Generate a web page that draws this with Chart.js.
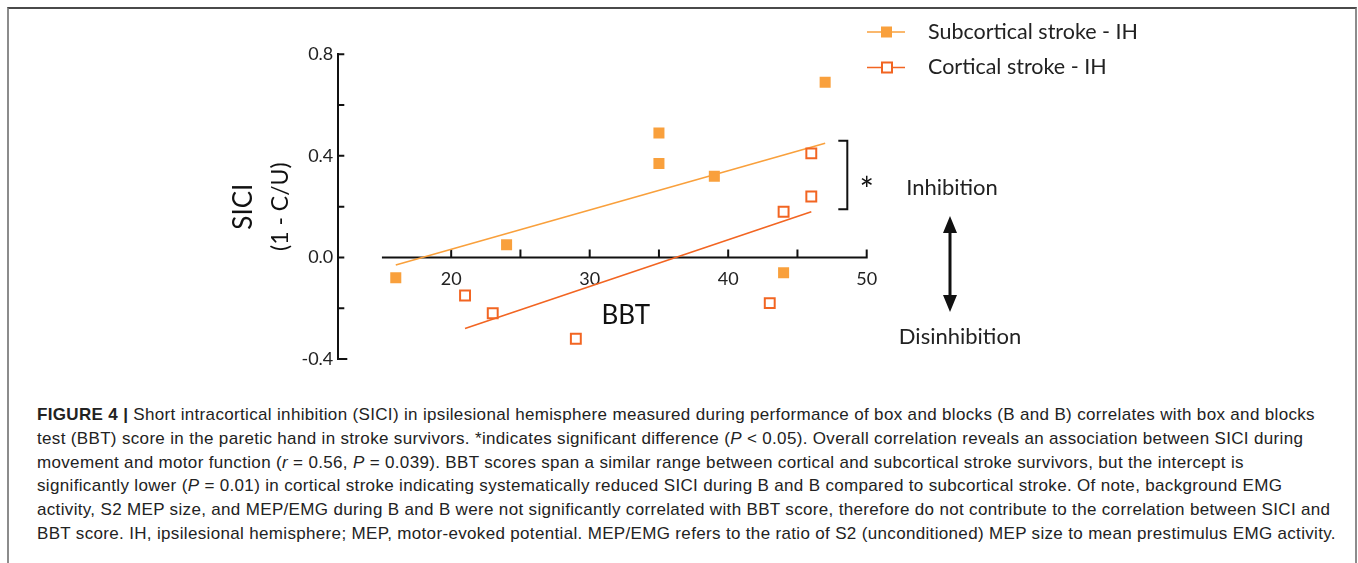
<!DOCTYPE html>
<html>
<head>
<meta charset="utf-8">
<script src="https://cdn.jsdelivr.net/npm/chart.js@4.4.1/dist/chart.umd.min.js"></script>
<style>
  body { margin: 0; background: #fff; width: 1358px; height: 563px; overflow: hidden; position: relative; }
  #frame { position: absolute; left: 7px; top: 7px; width: 1346px; height: 620px; border-top: 2px solid #4a4a4a; border-left: 2px solid #8c8c8c; border-right: 2px solid #8c8c8c; }
  #chartBox { position: absolute; left: 0; top: 0; width: 1358px; height: 390px; }
  #caption { position: absolute; left: 37px; top: 403px; font-family: "Liberation Sans Narrow", "Liberation Sans", Arial, sans-serif; font-size: 17px; line-height: 23.8px; color: #222; white-space: nowrap; }
  #caption b { font-family: "Liberation Sans", Arial, sans-serif; }
</style>
</head>
<body>
<div id="frame"></div>
<div id="chartBox"><canvas id="chart" width="1358" height="390"></canvas></div>
<div id="caption">
  <div><span id="line1"><b>FIGURE 4 |</b> Short intracortical inhibition (SICI) in ipsilesional hemisphere measured during performance of box and blocks (B and B) correlates with box and blocks</span></div>
  <div>test (BBT) score in the paretic hand in stroke survivors. *indicates significant difference (<i>P</i> &lt; 0.05). Overall correlation reveals an association between SICI during</div>
  <div>movement and motor function (<i>r</i> = 0.56, <i>P</i> = 0.039). BBT scores span a similar range between cortical and subcortical stroke survivors, but the intercept is</div>
  <div>significantly lower (<i>P</i> = 0.01) in cortical stroke indicating systematically reduced SICI during B and B compared to subcortical stroke. Of note, background EMG</div>
  <div>activity, S2 MEP size, and MEP/EMG during B and B were not significantly correlated with BBT score, therefore do not contribute to the correlation between SICI and</div>
  <div>BBT score. IH, ipsilesional hemisphere; MEP, motor-evoked potential. MEP/EMG refers to the ratio of S2 (unconditioned) MEP size to mean prestimulus EMG activity.</div>
</div>
<script>
// data
const seriesNames = ["Subcortical stroke - IH", "Cortical stroke - IH"];
const subX = [16, 24, 35, 35, 39, 44, 47];
const subY = [-0.08, 0.05, 0.49, 0.37, 0.32, -0.06, 0.69];
const corX = [21, 23, 29, 43, 44, 46, 46];
const corY = [-0.15, -0.22, -0.32, -0.18, 0.18, 0.24, 0.41];
// regression lines (end points as drawn)
const subFitX = [16, 47];
const subFitY = [-0.03, 0.45];
const corFitX = [21, 46];
const corFitY = [-0.28, 0.18];
// axes
const xTicks = [20, 30, 40, 50];
const xMinorTicks = [25, 35, 45];
const xAxisRange = [15, 50];
const yTickLabels = ["-0.4", "0.0", "0.4", "0.8"];
const bracketX = 48.6;
const bracketY = [0.19, 0.46];

const subColor = "#F9A03C";
const corColor = "#F26522";
const font = "Lato, 'Open Sans', sans-serif";

function pts(xs, ys) {
    return xs.map((x, i) => ({ x: x, y: ys[i] }));
}

// caption: stretch letter spacing so the first line matches the original width
let line1 = document.getElementById("line1");
let w = line1.getBoundingClientRect().width;
let ls = (1278 - w) / line1.textContent.length;
document.getElementById("caption").style.letterSpacing = ls.toFixed(3) + "px";

// axes, bracket, labels, legend
const decor = {
    id: "decor",
    beforeDatasetsDraw(chart) {
        let ctx = chart.ctx, xs = chart.scales.x, ys = chart.scales.y;
        let y0 = ys.getPixelForValue(0);
        ctx.save();
        ctx.strokeStyle = "#111";
        ctx.lineWidth = 2;
        ctx.beginPath();
        ctx.moveTo(xs.getPixelForValue(xAxisRange[0]), y0);
        ctx.lineTo(xs.getPixelForValue(xAxisRange[1]) + 1, y0);
        xTicks.concat(xMinorTicks).forEach(v => {
            let px = xs.getPixelForValue(v);
            ctx.moveTo(px, y0);
            ctx.lineTo(px, y0 - 8);
        });
        ys.ticks.forEach(t => {
            let py = ys.getPixelForValue(t.value);
            let len = (t.value === 0 || t.value === -0.4) ? 9 : 6;
            ctx.moveTo(chart.chartArea.left, py);
            ctx.lineTo(chart.chartArea.left + len, py);
        });
        ctx.stroke();
        ctx.restore();
    },
    afterDraw(chart) {
        let ctx = chart.ctx, xs = chart.scales.x, ys = chart.scales.y;
        let left = chart.chartArea.left;
        ctx.save();
        ctx.fillStyle = "#111";
        ctx.strokeStyle = "#111";
        ctx.textAlign = "center";
        ctx.textBaseline = "middle";

        // y axis titles
        let yc = ys.getPixelForValue(0.2);
        ctx.save();
        ctx.translate(left - 95, yc);
        ctx.rotate(-Math.PI / 2);
        ctx.font = "26px " + font;
        ctx.fillText("SICI", 0, 0);
        ctx.restore();
        ctx.save();
        ctx.translate(left - 58, yc);
        ctx.rotate(-Math.PI / 2);
        ctx.font = "23px " + font;
        ctx.fillText("(1 - C/U)", 0, 0);
        ctx.restore();

        // x axis title
        ctx.font = "26px " + font;
        ctx.fillText("BBT", xs.getPixelForValue(32.6), ys.getPixelForValue(-0.23));

        // bracket and star
        let bx = xs.getPixelForValue(bracketX);
        let bt = ys.getPixelForValue(bracketY[1]), bb = ys.getPixelForValue(bracketY[0]);
        ctx.lineWidth = 2;
        ctx.beginPath();
        ctx.moveTo(bx - 9, bt);
        ctx.lineTo(bx, bt);
        ctx.lineTo(bx, bb);
        ctx.lineTo(bx - 9, bb);
        ctx.stroke();
        ctx.font = "34px " + font;
        ctx.fillText("*", xs.getPixelForValue(50), ys.getPixelForValue(0.26));

        // inhibition / disinhibition arrow
        ctx.font = "22px " + font;
        ctx.fillStyle = "#222";
        ctx.fillText("Inhibition", 952, 188);
        ctx.fillText("Disinhibition", 960, 337);
        ctx.fillStyle = "#111";
        ctx.lineWidth = 3;
        ctx.beginPath();
        ctx.moveTo(950, 225);
        ctx.lineTo(950, 303);
        ctx.stroke();
        ctx.beginPath();
        ctx.moveTo(950, 216);
        ctx.lineTo(957, 233);
        ctx.lineTo(943, 233);
        ctx.closePath();
        ctx.moveTo(950, 312);
        ctx.lineTo(957, 295);
        ctx.lineTo(943, 295);
        ctx.closePath();
        ctx.fill();

        // legend
        ctx.textAlign = "left";
        ctx.font = "21.5px " + font;
        chart.data.datasets.slice(0, 2).forEach((ds, i) => {
            let ly = 32 + i * 35.5;
            ctx.strokeStyle = ds.borderColor;
            ctx.lineWidth = 1.5;
            ctx.beginPath();
            ctx.moveTo(867, ly);
            ctx.lineTo(905, ly);
            ctx.stroke();
            if (i === 0) {
                ctx.fillStyle = ds.backgroundColor;
                ctx.fillRect(881, ly - 5.5, 11, 11);
            } else {
                ctx.fillStyle = "#fff";
                ctx.fillRect(882, ly - 5, 10, 10);
                ctx.lineWidth = 2;
                ctx.strokeRect(882, ly - 5, 10, 10);
            }
            ctx.fillStyle = "#222";
            ctx.fillText(ds.label, 928, ly);
        });
        ctx.restore();
    }
};

new Chart(document.getElementById("chart"), {
    type: "scatter",
    data: {
        datasets: [{
            label: seriesNames[0],
            data: pts(subX, subY),
            pointStyle: "rect",
            pointRadius: 7.8,
            pointBorderWidth: 0,
            backgroundColor: subColor,
            borderColor: subColor
        }, {
            label: seriesNames[1],
            data: pts(corX, corY),
            pointStyle: "rect",
            pointRadius: 7,
            pointBorderWidth: 2,
            backgroundColor: "rgba(255,255,255,0)",
            borderColor: corColor
        }, {
            label: "fit sub",
            data: pts(subFitX, subFitY),
            showLine: true,
            pointRadius: 0,
            borderWidth: 1.6,
            borderColor: subColor
        }, {
            label: "fit cor",
            data: pts(corFitX, corFitY),
            showLine: true,
            pointRadius: 0,
            borderWidth: 1.6,
            borderColor: corColor
        }]
    },
    options: {
        responsive: false,
        animation: false,
        layout: { padding: { left: 278.3, right: 491.3, top: 54.3, bottom: 31 } },
        plugins: { legend: { display: false }, tooltip: { enabled: false } },
        scales: {
            x: {
                type: "linear",
                position: { y: 0 },
                min: 11.85,
                max: 50,
                grid: { display: false, drawTicks: false },
                border: { display: false },
                afterBuildTicks: s => { s.ticks = xTicks.map(v => ({ value: v })); },
                ticks: { padding: 11, color: "#222", font: { family: font, size: 18 } }
            },
            y: {
                min: -0.4,
                max: 0.8,
                grid: { display: false, drawTicks: false },
                border: { display: true, color: "#111", width: 2 },
                afterFit: s => { s.width = 60; },
                ticks: {
                    stepSize: 0.2,
                    padding: 5,
                    color: "#222",
                    font: { family: font, size: 18 },
                    callback: v => yTickLabels.find(t => Math.abs(parseFloat(t) - v) < 1e-6) || ""
                }
            }
        }
    },
    plugins: [decor]
});
</script>
</body>
</html>
